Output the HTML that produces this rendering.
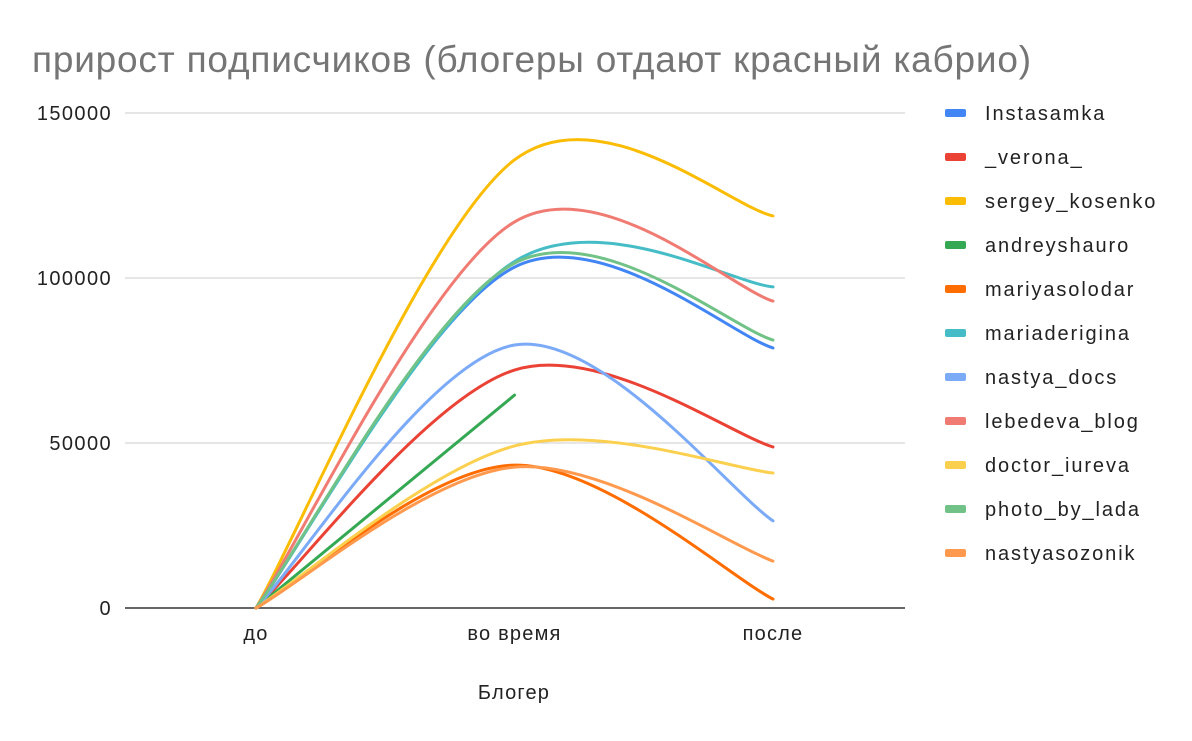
<!DOCTYPE html>
<html><head><meta charset="utf-8"><style>
body{margin:0;background:#fff;font-family:"Liberation Sans",Arial,sans-serif;}
</style></head><body>
<svg id="chart" width="1192" height="736" xmlns="http://www.w3.org/2000/svg" font-family="Liberation Sans, Arial, sans-serif">
<text x="32" y="72" font-size="37" letter-spacing="0.8" fill="#757575">прирост подписчиков (блогеры отдают красный кабрио)</text>
<g id="grid"></g><g id="lines"></g><g id="legend"></g>
<text x="514" y="699" font-size="20" letter-spacing="1.2" text-anchor="middle" fill="#222">Блогер</text>
</svg>
<script>
const categories=["до","во время","после"];
const seriesNames=["Instasamka","_verona_","sergey_kosenko","andreyshauro","mariyasolodar","mariaderigina","nastya_docs","lebedeva_blog","doctor_iureva","photo_by_lada","nastyasozonik"];
const s_instasamka=[0,103300,78800];
const s_verona=[0,72100,48800];
const s_sergey=[0,135800,118800];
const s_andrey=[0,64500];
const s_mariya=[0,43300,2700];
const s_mariaderigina=[0,105000,97300];
const s_nastyadocs=[0,79700,26400];
const s_lebedeva=[0,117000,93000];
const s_doctor=[0,49100,40900];
const s_photo=[0,104500,81200];
const s_sozonik=[0,42700,14200];
const seriesValues=[s_instasamka,s_verona,s_sergey,s_andrey,s_mariya,s_mariaderigina,s_nastyadocs,s_lebedeva,s_doctor,s_photo,s_sozonik];
const yTicks=[0,50000,100000,150000];
const colors=["#4285f4","#ea4335","#fbbc04","#34a853","#ff6d01","#46bdc6","#7baaf7","#f07b72","#fcd04f","#71c287","#ff994d"];
const NS="http://www.w3.org/2000/svg";
const x=i=>256+i*258.5;
const y=v=>608-v*(495/150000);
function mk(t,a,p){const e=document.createElementNS(NS,t);for(const k in a)e.setAttribute(k,a[k]);p.appendChild(e);return e;}
const grid=document.getElementById('grid');
yTicks.forEach(v=>{
 const l=mk('line',{x1:125,x2:905,y1:y(v),y2:y(v),stroke:v===0?'#333':'#ccc','stroke-width':v===0?1.5:1},grid);
 
 
 const t=mk('text',{x:112,y:y(v)+7,'font-size':20,'letter-spacing':1.4,'text-anchor':'end',fill:'#222'},grid);
 t.textContent=v;
 
 
});
categories.forEach((c,i)=>{
 const t=mk('text',{x:x(i),y:640,'font-size':20,'letter-spacing':1.2,'text-anchor':'middle',fill:'#222'},grid);
 t.textContent=c;
 
 
});
const lines=document.getElementById('lines');
seriesValues.forEach((vals,si)=>{
 const P=vals.map((v,i)=>[x(i),y(v)]);
 let d='M'+P[0][0]+','+P[0][1];
 if(P.length===2){d+=' L'+P[1][0]+','+P[1][1];}
 else{
  const tan=i=>{const a=P[Math.max(0,i-1)],b=P[Math.min(P.length-1,i+1)];return[(b[0]-a[0])/2,(b[1]-a[1])/2];};
  for(let i=0;i<P.length-1;i++){
   const t0=tan(i),t1=tan(i+1);
   d+=' C'+(P[i][0]+t0[0]/3)+','+(P[i][1]+t0[1]/3)+' '+(P[i+1][0]-t1[0]/3)+','+(P[i+1][1]-t1[1]/3)+' '+P[i+1][0]+','+P[i+1][1];
  }
 }
 const p=mk('path',{d:d,fill:'none',stroke:colors[si],'stroke-width':3,'stroke-linecap':'round'},lines);
 
 
});
const lg=document.getElementById('legend');
seriesNames.forEach((n,i)=>{
 const yy=113+i*44;
 const g=mk('g',{},lg);
 
 
 mk('rect',{x:945,y:yy-4,width:21,height:8,rx:2,fill:colors[i]},g);
 const t=mk('text',{x:985,y:yy+7,'font-size':20,'letter-spacing':1.9,fill:'#222'},g);
 t.textContent=n;
});
</script>
</body></html>
